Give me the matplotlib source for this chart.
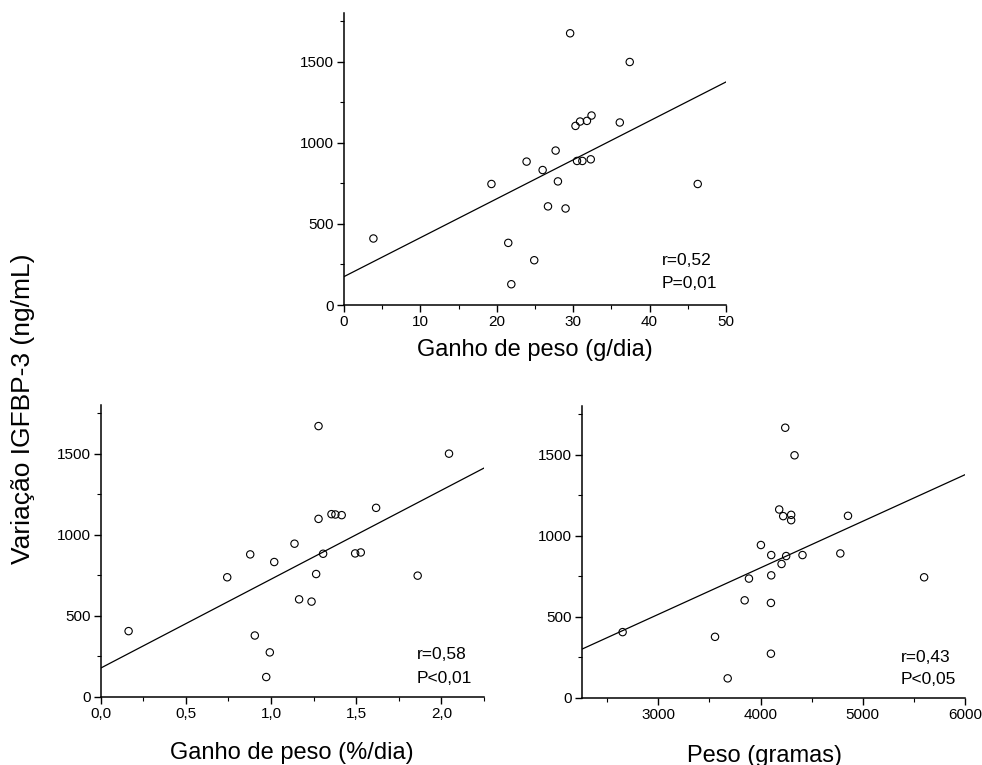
import numpy as np
import matplotlib
matplotlib.use("Agg")
from matplotlib import pyplot as plt
from matplotlib.ticker import MultipleLocator, FuncFormatter

plt.rcParams['font.family'] = ['Liberation Sans', 'DejaVu Sans']

# variação IGFBP-3 (ng/mL), same 22 children in the three panels
igf_top = [410, 746, 383, 128, 884, 276, 832, 608, 952, 762, 595, 1675,
           1104, 888, 1131, 888, 1135, 1168, 898, 1125, 1498, 746]
gain_gday = [3.85, 19.3, 21.5, 21.9, 23.9, 24.9, 26.0, 26.7, 27.7, 28.0, 29.0, 29.6,
             30.3, 30.5, 30.9, 31.2, 31.8, 32.4, 32.3, 36.1, 37.4, 46.3]

igf_left = [406, 738, 879, 379, 123, 275, 832, 945, 602, 588, 758, 1098,
            1670, 883, 1127, 1125, 1121, 885, 891, 1166, 748, 1500]
gain_pct = [0.164, 0.743, 0.878, 0.905, 0.972, 0.993, 1.019, 1.138, 1.165, 1.238, 1.265, 1.279,
            1.279, 1.306, 1.355, 1.378, 1.415, 1.494, 1.527, 1.617, 1.861, 2.045]

igf_right = [406, 377, 121, 602, 736, 943, 586, 273, 756, 881, 1162, 826,
             1121, 1666, 875, 1129, 1096, 1496, 881, 891, 1123, 744]
weight_g = [2650, 3554, 3678, 3844, 3886, 4003, 4101, 4101, 4104, 4104, 4182, 4205,
            4221, 4241, 4250, 4299, 4299, 4332, 4410, 4780, 4855, 5600]

# regression lines (intercept, slope) as drawn
fit_top = (175, 24.0)
fit_left = (178, 548.0)
fit_right = (-345, 0.2869)

stats_top = ["r=0,52", "P=0,01"]
stats_left = ["r=0,58", "P<0,01"]
stats_right = ["r=0,43", "P<0,05"]

fig = plt.figure(figsize=(9.82, 7.65), dpi=100)

def comma(v, pos, nd):
    return (f"{v:.{nd}f}").replace(".", ",")

def panel(rect, x, y, fit, xlim, xmajor, xminor, xlabel, xlab_pos, stats, tx, ty, nd):
    ax = fig.add_axes(rect)
    ax.scatter(x, y, s=28, facecolors='none', edgecolors='black', linewidths=0.8, zorder=3)
    xs = np.array(xlim)
    ax.plot(xs, fit[0] + fit[1] * xs, color='black', lw=0.9)
    ax.set_xlim(xlim)
    ax.set_ylim(0, 1800)
    for s in ['top', 'right']:
        ax.spines[s].set_visible(False)
    for s in ['left', 'bottom']:
        ax.spines[s].set_linewidth(1.1)
    ax.yaxis.set_major_locator(MultipleLocator(500))
    ax.yaxis.set_minor_locator(MultipleLocator(250))
    ax.xaxis.set_major_locator(MultipleLocator(xmajor))
    ax.xaxis.set_minor_locator(MultipleLocator(xminor))
    ax.xaxis.set_major_formatter(FuncFormatter(lambda v, p: comma(v, p, nd)))
    ax.tick_params(which='major', direction='out', length=5, width=1, labelsize=11, pad=2)
    ax.tick_params(which='minor', direction='out', length=3, width=0.8)
    ax.set_xlabel(xlabel, fontsize=17, va='top')
    ax.xaxis.set_label_coords(*xlab_pos)
    ax.text(tx, ty[0], stats[0], transform=ax.transAxes, fontsize=12.5, va='center')
    ax.text(tx, ty[1], stats[1], transform=ax.transAxes, fontsize=12.5, va='center')
    return ax

panel([0.3503, 0.6013, 0.389, 0.3817], gain_gday, igf_top, fit_top, (0, 50), 10, 5,
      "Ganho de peso (g/dia)", (0.5, -0.115), stats_top, 0.832, (0.151, 0.072), 0)
panel([0.1025, 0.0889, 0.3903, 0.3817], gain_pct, igf_left, fit_left, (0, 2.25), 0.5, 0.25,
      "Ganho de peso (%/dia)", (0.5, -0.155), stats_left, 0.825, (0.147, 0.062), 1)
panel([0.5924, 0.0876, 0.3903, 0.3817], weight_g, igf_right, fit_right, (2250, 6000), 1000, 500,
      "Peso (gramas)", (0.477, -0.16), stats_right, 0.833, (0.140, 0.062), 0)

fig.text(23 / 982, 1 - 409 / 765, "Variação IGFBP-3 (ng/mL)", rotation=90,
         fontsize=19, ha='center', va='center')

fig.savefig("out.png", dpi=100)
